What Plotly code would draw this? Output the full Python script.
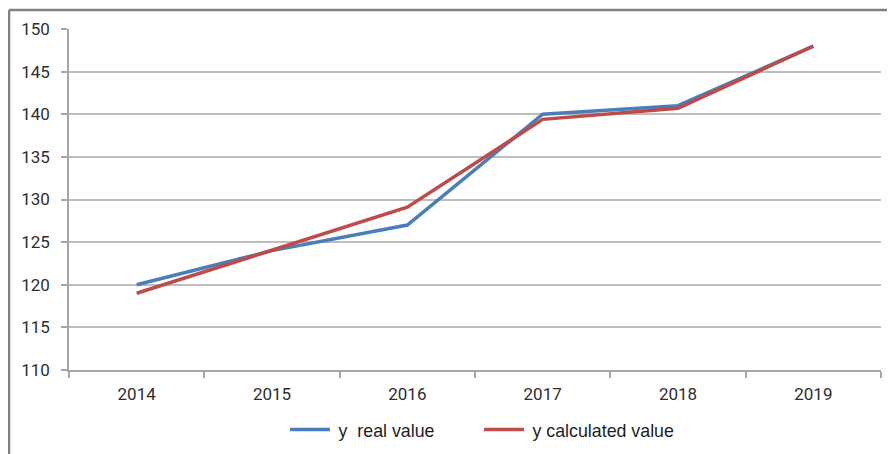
import plotly.graph_objects as go

years = ["2014", "2015", "2016", "2017", "2018", "2019"]
y_real = [120, 124, 127, 140, 141, 148]
y_calc = [119, 124, 129.1, 139.4, 140.7, 148]
y_ticks = [110, 115, 120, 125, 130, 135, 140, 145, 150]

fig = go.Figure()
fig.add_trace(go.Scatter(x=years, y=y_real, mode="lines",
                         name="\u2009y\u00a0\u00a0real value" + "\u00a0" * 8,
                         line=dict(color="#4a7ebb", width=3.5)))
fig.add_trace(go.Scatter(x=years, y=y_calc, mode="lines", name="\u2009y calculated value",
                         line=dict(color="#be4b48", width=3.5)))

# page body has an 8px margin, so figure coordinates are window coordinates minus 8
OFF = 8
W, H = 895, 454
L, R, T, B = 69 - OFF, 881 - OFF, 29 - OFF, 370 - OFF
pw, ph = R - L, B - T

def px(x):
    return (x - OFF - L) / pw

def py(y):
    return (B - (y - OFF)) / ph

tick_font = dict(family="Roboto, Open Sans, sans-serif", size=17, color="#2e2e2e")

fig.update_layout(
    width=W, height=H,
    margin=dict(l=L, r=W - R, t=T, b=H - B, autoexpand=False),
    paper_bgcolor="white", plot_bgcolor="white",
    font=dict(family="Roboto, sans-serif", size=17, color="#333333"),
    showlegend=True,
    legend=dict(orientation="h", x=px(285), xanchor="left", y=py(430), yanchor="middle",
                font=dict(family="Liberation Sans, Arial, sans-serif", size=17.8, color="#1e1e1e"),
                itemwidth=40, tracegroupgap=0, bgcolor="rgba(0,0,0,0)"),
    xaxis=dict(type="category", range=[-0.5, 5.5], tickson="boundaries", ticks="outside",
               ticklen=6, tickcolor="#a6a6a6", tickwidth=1.5, showline=True, linecolor="#a6a6a6",
               linewidth=1.5, showgrid=False, tickfont=tick_font, ticklabelstandoff=8,
               fixedrange=True),
    yaxis=dict(range=[110, 150], tickvals=y_ticks, ticks="outside", ticklen=6,
               tickcolor="#a6a6a6", tickwidth=1.5, showline=True, linecolor="#a6a6a6",
               linewidth=1.5, showgrid=True, gridcolor="#bdbdbd", gridwidth=1.5, zeroline=False,
               tickfont=tick_font, ticklabelstandoff=8),
    shapes=[
        dict(type="line", xref="paper", yref="paper", x0=px(9), x1=px(9), y0=py(470), y1=py(10),
             line=dict(color="#808080", width=2.5)),
        dict(type="line", xref="paper", yref="paper", x0=px(9), x1=px(910), y0=py(10), y1=py(10),
             line=dict(color="#808080", width=2.5)),
    ],
)

fig.write_html("out.html")
